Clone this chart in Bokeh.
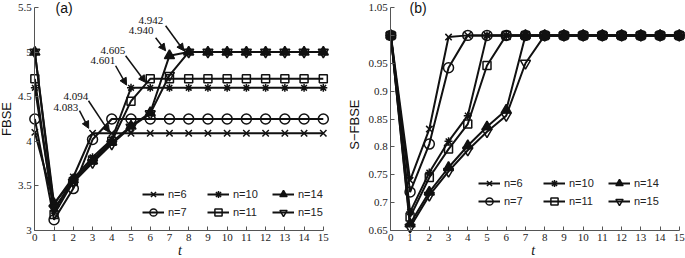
import math
from bokeh.plotting import figure
from bokeh.models import Range1d, FixedTicker, Legend, LegendItem, Label, Arrow, NormalHead
from bokeh.layouts import row
from bokeh.embed import file_html
from bokeh.resources import INLINE

# ---------------- data ----------------
t = [0, 1, 2, 3, 4, 5, 6, 7, 8, 9, 10, 11, 12, 13, 14, 15]
series_names = ["n=6", "n=7", "n=10", "n=11", "n=14", "n=15"]

# panel (a): FBSE
fbse_n6 = [4.10, 3.30, 3.60, 4.09, 4.09, 4.09, 4.09, 4.09, 4.09, 4.09, 4.09, 4.09, 4.09, 4.09, 4.09, 4.09]
fbse_n7 = [4.25, 3.12, 3.47, 4.02, 4.25, 4.25, 4.25, 4.25, 4.25, 4.25, 4.25, 4.25, 4.25, 4.25, 4.25, 4.25]
fbse_n10 = [4.60, 3.22, 3.58, 3.82, 4.02, 4.60, 4.60, 4.60, 4.60, 4.60, 4.60, 4.60, 4.60, 4.60, 4.60, 4.60]
fbse_n11 = [4.70, 3.18, 3.55, 3.79, 4.00, 4.45, 4.70, 4.70, 4.70, 4.70, 4.70, 4.70, 4.70, 4.70, 4.70, 4.70]
fbse_n14 = [5.00, 3.30, 3.57, 3.78, 3.99, 4.17, 4.32, 4.96, 5.00, 5.00, 5.00, 5.00, 5.00, 5.00, 5.00, 5.00]
fbse_n15 = [5.00, 3.25, 3.54, 3.76, 3.97, 4.16, 4.31, 4.74, 5.00, 5.00, 5.00, 5.00, 5.00, 5.00, 5.00, 5.00]

# panel (b): S-FBSE
sfbse_n6 = [1.0, 0.740, 0.832, 0.997, 1.0, 1.0, 1.0, 1.0, 1.0, 1.0, 1.0, 1.0, 1.0, 1.0, 1.0, 1.0]
sfbse_n7 = [1.0, 0.719, 0.805, 0.942, 1.0, 1.0, 1.0, 1.0, 1.0, 1.0, 1.0, 1.0, 1.0, 1.0, 1.0, 1.0]
sfbse_n10 = [1.0, 0.683, 0.754, 0.810, 0.856, 1.0, 1.0, 1.0, 1.0, 1.0, 1.0, 1.0, 1.0, 1.0, 1.0, 1.0]
sfbse_n11 = [1.0, 0.674, 0.745, 0.796, 0.841, 0.946, 1.0, 1.0, 1.0, 1.0, 1.0, 1.0, 1.0, 1.0, 1.0, 1.0]
sfbse_n14 = [1.0, 0.662, 0.719, 0.763, 0.802, 0.836, 0.866, 1.0, 1.0, 1.0, 1.0, 1.0, 1.0, 1.0, 1.0, 1.0]
sfbse_n15 = [1.0, 0.656, 0.713, 0.756, 0.794, 0.827, 0.856, 0.950, 1.0, 1.0, 1.0, 1.0, 1.0, 1.0, 1.0, 1.0]

x_ticks = [0, 1, 2, 3, 4, 5, 6, 7, 8, 9, 10, 11, 12, 13, 14, 15]
ya_ticks = [3, 3.5, 4, 4.5, 5, 5.5]
ya_labels = ["3", "3.5", "4", "4.5", "5", "5.5"]
yb_ticks = [0.65, 0.7, 0.75, 0.8, 0.85, 0.9, 0.95, 1.0, 1.05]
yb_labels = ["0.65", "0.7", "0.75", "0.8", "0.85", "0.9", "0.95", "", "1.05"]

# annotation texts in panel (a)
annot_text = ["4.083", "4.094", "4.601", "4.605", "4.940", "4.942"]

# ---------------- styling ----------------
SERIF = "Liberation Serif"
SANS = "Liberation Sans"
INK = "#111111"
AX = "#555555"
marker_styles = [
    dict(marker="x", size=9, fill_alpha=0),
    dict(marker="circle", size=10, fill_alpha=0),
    dict(marker="asterisk", size=8, fill_alpha=0),
    dict(marker="square", size=8, fill_alpha=0),
    dict(marker="triangle", size=10, fill_color=INK, fill_alpha=1),
    dict(marker="inverted_triangle", size=10, fill_alpha=0),
]


def make_fig(w, h, xr, yr, x_fix, y_fix, yb):
    p = figure(width=w, height=h,
               x_range=Range1d(*xr), y_range=Range1d(*yr),
               output_backend="svg", toolbar_location=None,
               min_border_left=0, min_border_right=0,
               min_border_top=0, min_border_bottom=0)
    p.outline_line_color = None
    p.xgrid.visible = False
    p.ygrid.visible = False
    p.background_fill_color = "white"
    p.border_fill_color = "white"
    for ax in (p.xaxis[0], p.yaxis[0]):
        ax.axis_line_color = AX
        ax.axis_line_width = 1
        ax.major_tick_line_color = AX
        ax.major_tick_in = 4
        ax.major_tick_out = 0
        ax.minor_tick_line_color = None
        ax.major_label_text_font = SERIF
        ax.major_label_text_font_size = "11px"
        ax.major_label_text_color = "#222222"
        ax.major_label_standoff = 3
    p.xaxis.ticker = FixedTicker(ticks=x_ticks)
    p.xaxis.bounds = (x_ticks[0], x_ticks[-1])
    p.xaxis.fixed_location = x_fix
    p.yaxis.ticker = FixedTicker(ticks=yb)
    p.yaxis.bounds = (yb[0], yb[-1])
    p.yaxis.fixed_location = y_fix
    return p


def add_series(p, data_list, loc):
    lines, marks, items = [], [], []
    for ys in data_list:
        lines.append(p.line(t, ys, line_color=INK, line_width=2))
    for ys, ms in zip(data_list, marker_styles):
        marks.append(p.scatter(t, ys, line_color=INK, line_width=1.5, **ms))
    for name, lr, sr in zip(series_names, lines, marks):
        items.append(LegendItem(label=name, renderers=[lr, sr]))
    leg = Legend(items=items, orientation="vertical", nrows=2,
                 location=loc, padding=0, margin=0, spacing=0,
                 glyph_width=22, glyph_height=18, label_height=18,
                 label_width=39, label_standoff=4,
                 label_text_font=SANS, label_text_font_size="11px",
                 label_text_color="#222222",
                 border_line_alpha=0, background_fill_alpha=0)
    p.add_layout(leg, "center")


# ---------------- panel (a) ----------------
pa = make_fig(343, 258, (-1.786, 16.05), (2.6861, 5.5785), ya_ticks[0], 0, ya_ticks)
pa.yaxis.major_label_overrides = {tk: lb for tk, lb in zip(ya_ticks, ya_labels)}
add_series(pa, [fbse_n6, fbse_n7, fbse_n10, fbse_n11, fbse_n14, fbse_n15], (142, 37))

pa.add_layout(Label(x=-1.45, y=4.25, text="FBSE", angle=math.pi / 2,
                    text_align="center", text_baseline="middle",
                    text_font=SANS, text_font_size="13px", text_color=INK))
pa.add_layout(Label(x=7.55, y=2.7758, text="t", text_align="center",
                    text_baseline="middle", text_font=SERIF,
                    text_font_style="italic", text_font_size="14px", text_color=INK))
pa.add_layout(Label(x=1.08, y=5.49, text="(a)", text_align="left",
                    text_baseline="middle", text_font=SANS,
                    text_font_size="14px", text_color=INK))

# annotation layout (text anchor and arrow start/end, data coords)
annot_text_pos = [(0.97, 4.377), (1.49, 4.50), (2.90, 4.903), (3.42, 5.015), (4.88, 5.239), (5.39, 5.351)]
annot_arrow = [((2.32, 4.343), (2.80, 4.145)),
               ((2.79, 4.455), (3.88, 4.10)),
               ((4.20, 4.847), (4.77, 4.63)),
               ((4.72, 4.959), (5.76, 4.66)),
               ((6.28, 5.161), (6.80, 5.015)),
               ((6.80, 5.295), (7.75, 5.015))]
for txt, tp, (st, en) in zip(annot_text, annot_text_pos, annot_arrow):
    pa.add_layout(Label(x=tp[0], y=tp[1], text=txt, text_align="left",
                        text_baseline="middle", text_font=SERIF,
                        text_font_size="11px", text_color=INK))
    pa.add_layout(Arrow(end=NormalHead(size=7, fill_color=INK, line_color=INK),
                        x_start=st[0], y_start=st[1], x_end=en[0], y_end=en[1],
                        line_color=INK, line_width=1.5))

# ---------------- panel (b) ----------------
pb = make_fig(342, 258, (-2.462, 15.322), (0.59978, 1.06256), yb_ticks[0], 0, yb_ticks)
pb.yaxis.major_label_overrides = {tk: lb for tk, lb in zip(yb_ticks, yb_labels)}
add_series(pb, [sfbse_n6, sfbse_n7, sfbse_n10, sfbse_n11, sfbse_n14, sfbse_n15], (135, 48))

pb.add_layout(Label(x=-1.87, y=0.84, text="S\u2212FBSE", angle=math.pi / 2,
                    text_align="center", text_baseline="middle",
                    text_font=SANS, text_font_size="13px", text_color=INK))
pb.add_layout(Label(x=7.4, y=0.6141, text="t", text_align="center",
                    text_baseline="middle", text_font=SERIF,
                    text_font_style="italic", text_font_size="14px", text_color=INK))
pb.add_layout(Label(x=0.97, y=1.049, text="(b)", text_align="left",
                    text_baseline="middle", text_font=SANS,
                    text_font_size="14px", text_color=INK))

layout = row(pa, pb)
open("out.html", "w").write(file_html(layout, INLINE))
